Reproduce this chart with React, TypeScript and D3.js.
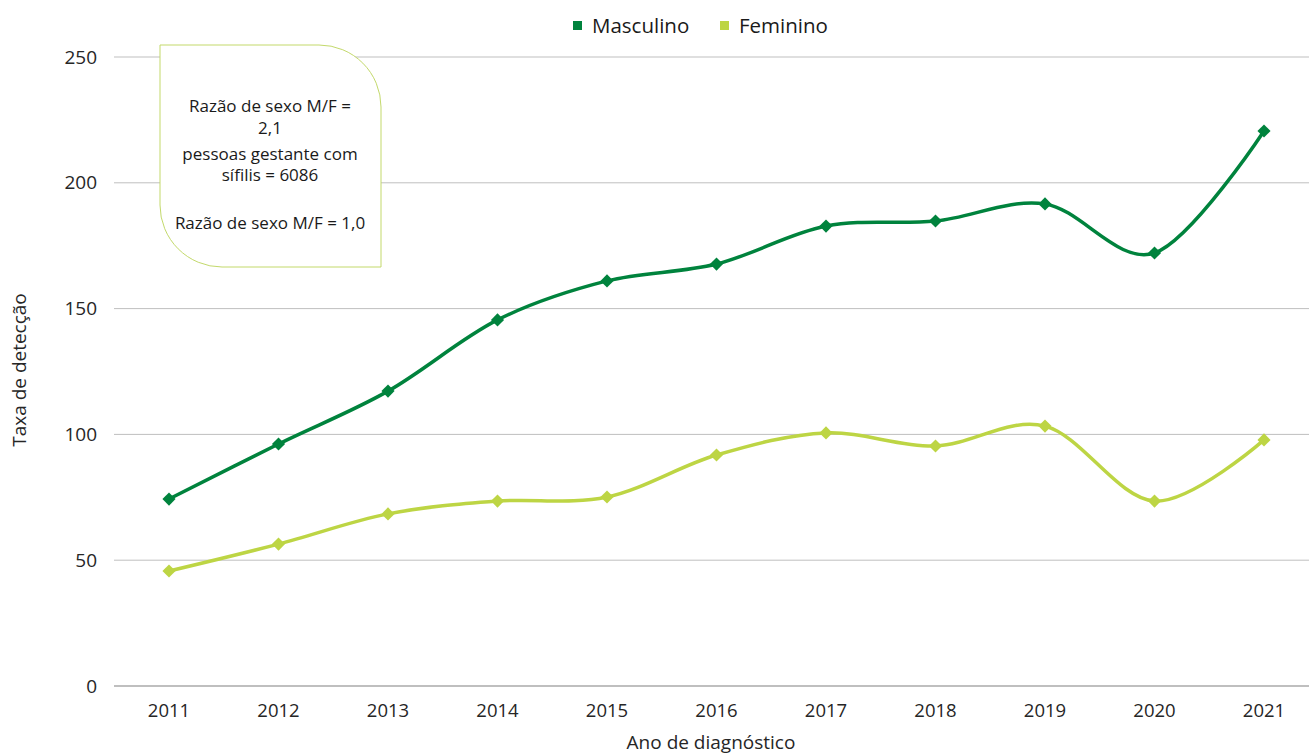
import React from "react";
import * as d3 from "d3";

const years = ["2011","2012","2013","2014","2015","2016","2017","2018","2019","2020","2021"];
const masculino = [74.3, 96.2, 117.2, 145.5, 161.0, 167.7, 182.8, 184.8, 191.6, 172.1, 220.6];
const feminino = [45.7, 56.4, 68.4, 73.5, 75.1, 91.8, 100.6, 95.4, 103.3, 73.5, 97.8];
const yTicks = [0, 50, 100, 150, 200, 250];
const seriesNames = ["Masculino", "Feminino"];
const seriesColors = ["#00833D", "#BDD544"];
const noteLines = ["Razão de sexo M/F =", "2,1", "pessoas gestante com", "sífilis = 6086", "", "Razão de sexo M/F = 1,0"];

const W = 1309, H = 756;
const left = 114, right = 1309, top = 57, bottom = 686;
const FONT = "'Open Sans', 'Noto Sans', sans-serif";

export default function App() {
  const x = d3.scalePoint().domain(years).range([169, 1264]);
  const y = d3.scaleLinear().domain([0, 250]).range([bottom, top]);
  const cx = (d: string) => x(d) as number;
  const line = d3.line<number>().x((_, i) => cx(years[i])).y((v) => y(v)).curve(d3.curveCardinal.tension(0));
  const data = [masculino, feminino];
  const diamond = d3.symbol().type(d3.symbolDiamond2).size(110)() as string;

  // annotation box
  const bx0 = 160, bx1 = 381, by0 = 45, by1 = 267, r = 62;
  const boxPath = `M${bx0},${by0} H${bx1 - r} A${r},${r} 0 0 1 ${bx1},${by0 + r} V${by1} H${bx0 + r} A${r},${r} 0 0 1 ${bx0},${by1 - r} Z`;
  const noteY = [106, 128, 154, 175, 0, 223];

  return (
    <svg width={W} height={H} style={{ position: "absolute", left: 0, top: 0, fontFamily: FONT }}>
      <rect width={W} height={H} fill="#fff" />
      {yTicks.filter((t) => t > 0).map((t) => (
        <line key={t} x1={left} x2={right} y1={y(t)} y2={y(t)} stroke="#BFBFBF" strokeWidth={1} />
      ))}
      <line x1={left} x2={right} y1={y(0)} y2={y(0)} stroke="#808080" strokeWidth={1.2} />
      {yTicks.map((t) => (
        <text key={t} x={97} y={y(t)} dy="0.35em" textAnchor="end" fontSize={19} fill="#262626">{t}</text>
      ))}
      {years.map((yr) => (
        <text key={yr} x={cx(yr)} y={717} textAnchor="middle" fontSize={18.5} fill="#262626">{yr}</text>
      ))}
      <text x={711} y={749} textAnchor="middle" fontSize={19} fill="#262626">Ano de diagnóstico</text>
      <text transform={`translate(26,${370}) rotate(-90)`} textAnchor="middle" fontSize={19} fill="#262626">Taxa de detecção</text>

      <path d={boxPath} fill="#fff" stroke="#C3D96B" strokeWidth={1} />
      {noteLines.map((l, i) => l ? (
        <text key={i} x={270} y={noteY[i]} dy="0.35em" textAnchor="middle" fontSize={17} fill="#1a1a1a">{l}</text>
      ) : null)}

      {data.map((s, k) => (
        <g key={k}>
          <path d={line(s) as string} fill="none" stroke={seriesColors[k]} strokeWidth={3.5} />
          {s.map((v, i) => (
            <path key={i} d={diamond} transform={`translate(${cx(years[i])},${y(v)})`} fill={seriesColors[k]} />
          ))}
        </g>
      ))}

      {seriesNames.map((n, k) => {
        const lx = [573, 720][k];
        return (
          <g key={n}>
            <rect x={lx} y={21} width={9} height={9} fill={seriesColors[k]} />
            <text x={lx + 19} y={26} dy="0.35em" fontSize={20.5} fill="#1a1a1a">{n}</text>
          </g>
        );
      })}
    </svg>
  );
}
